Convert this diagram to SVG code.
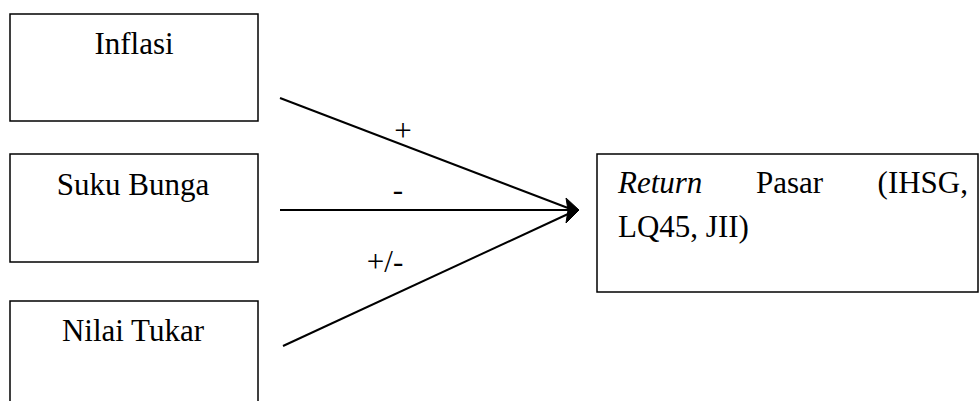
<svg xmlns="http://www.w3.org/2000/svg" width="979" height="401" viewBox="0 0 979 401">
<style>
.box{fill:#fff;stroke:#000;stroke-width:1.5}
.t{font-family:"Liberation Serif","Times New Roman",serif;font-size:31px;fill:#000}
.lbl{font-family:"Liberation Serif","Times New Roman",serif;font-size:31px;fill:#000}
.c{stroke:#000;stroke-width:2;fill:none}
.head{fill:#000;stroke:#000;stroke-width:1}
</style>
<rect width="979" height="401" fill="#fff"/>
<g id="inflasi"><rect class="box" x="10" y="14" width="248" height="107"/><text class="t" x="134" y="54" text-anchor="middle">Inflasi</text></g>
<g id="suku-bunga"><rect class="box" x="10" y="154" width="248" height="108"/><text class="t" x="133" y="195" text-anchor="middle">Suku Bunga</text></g>
<g id="nilai-tukar"><rect class="box" x="10" y="301" width="248" height="110"/><text class="t" x="133" y="341" text-anchor="middle">Nilai Tukar</text></g>
<g id="return-pasar"><rect class="box" x="597" y="154" width="381" height="138"/>
<text class="t" x="618" y="193" font-style="italic">Return</text>
<text class="t" x="756" y="193">Pasar</text>
<text class="t" x="968" y="193" text-anchor="end">(IHSG,</text>
<text class="t" x="618" y="237">LQ45, JII)</text></g>
<g id="connectors">
<line class="c" x1="280" y1="98" x2="568" y2="208"/>
<line class="c" x1="280" y1="210" x2="568" y2="210"/>
<line class="c" x1="283" y1="346" x2="568" y2="214"/>
<path class="head" d="M579,210 L566,198 L568,210 L566,223 Z"/>
<text class="lbl" x="403" y="141" text-anchor="middle">+</text>
<text class="lbl" x="398" y="200" text-anchor="middle">-</text>
<text class="lbl" x="385" y="272" text-anchor="middle">+/-</text>
</g>
</svg>
